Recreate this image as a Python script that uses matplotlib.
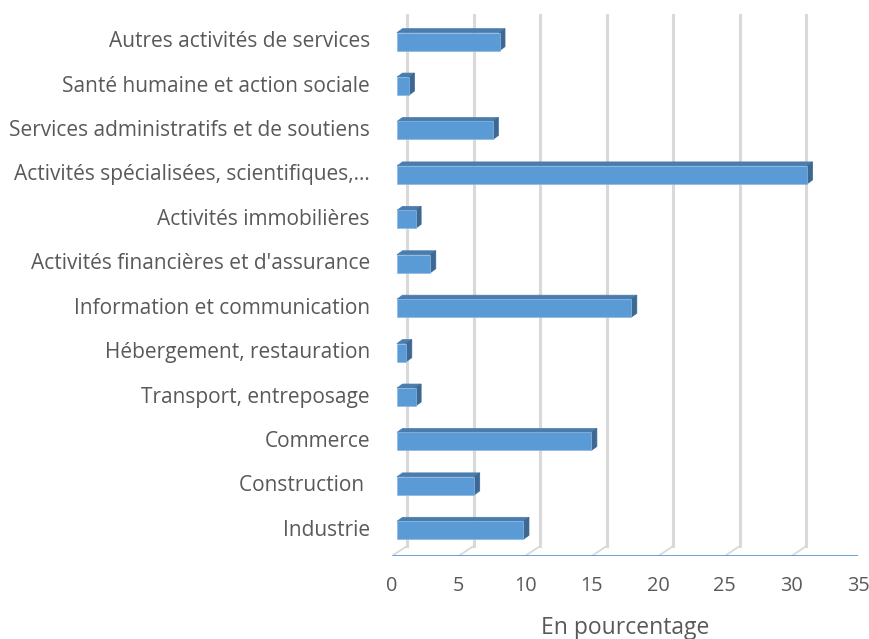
import matplotlib
matplotlib.use("Agg")
import matplotlib.pyplot as plt
from matplotlib.transforms import ScaledTranslation
from matplotlib.patches import Polygon

categories = ["Industrie", "Construction ", "Commerce", "Transport, entreposage",
              "Hébergement, restauration", "Information et communication",
              "Activités financières et d'assurance", "Activités immobilières",
              "Activités spécialisées, scientifiques,…",
              "Services administratifs et de soutiens",
              "Santé humaine et action sociale", "Autres activités de services"]
values = [9.5, 5.8, 14.6, 1.4, 0.7, 17.6, 2.5, 1.4, 30.8, 7.2, 0.9, 7.7]
xticks = [0, 5, 10, 15, 20, 25, 30, 35]
xlabel = "En pourcentage"

DPI = 100
fig = plt.figure(figsize=(8.70, 6.39), dpi=DPI)
ax = fig.add_axes([392/870, 83/639, 466/870, 542.4/639])
ax.set_xlim(0, 35)
ax.set_ylim(-0.5, 11.71)
ax.axis("off")
plt.rcParams['font.family'] = ['Open Sans', 'DejaVu Sans']
txtc = "#595959"
fs = 15.0

def off(dx, dy):
    return ax.transData + ScaledTranslation(dx/DPI, dy/DPI, fig.dpi_scale_trans)

# pixel scale
p0 = ax.transData.transform((0, 0))
px_x = ax.transData.transform((1, 0))[0] - p0[0]
px_y = ax.transData.transform((0, 1))[1] - p0[1]

back = (15, 10)
grid_c = "#d9d9d9"
y0, y1 = ax.get_ylim()
for t in xticks:
    ax.plot([t, t], [y0, y1], color=grid_c, lw=2.2, transform=off(*back), zorder=1)
    ax.plot([t, t + back[0]/px_x], [y0, y0 + back[1]/px_y], color=grid_c, lw=1.3, zorder=1)
ax.plot([0, 35], [y0, y0], color="#5B9BD5", lw=2.0, zorder=2, solid_capstyle="butt")

# bars
front = (5, 3.5)
depth_dx = 5.5 / px_x
depth_dy = 4.0 / px_y
h = 18.0 / px_y
fx, fy = front[0]/px_x, front[1]/px_y
for i, v in enumerate(values):
    xl, xr = fx, fx + v
    yb, yt = i + fy - h/2, i + fy + h/2
    frontp = [(xl, yb), (xr, yb), (xr, yt), (xl, yt)]
    top = [(xl, yt), (xr, yt), (xr + depth_dx, yt + depth_dy), (xl + depth_dx, yt + depth_dy)]
    side = [(xr, yb), (xr + depth_dx, yb + depth_dy), (xr + depth_dx, yt + depth_dy), (xr, yt)]
    ax.add_patch(Polygon(top, closed=True, fc="#4A7DAE", ec="#4A7DAE", lw=0.5, zorder=3))
    ax.add_patch(Polygon(side, closed=True, fc="#3C6893", ec="#3C6893", lw=0.5, zorder=3))
    ax.add_patch(Polygon(frontp, closed=True, fc="#5B9BD5", ec="#8DB8E3", lw=0.5, zorder=4))
    ax.text(0, i + fy, categories[i], ha="right", va="center", fontsize=fs, color=txtc,
            transform=off(-22, 0))

for t in xticks:
    ax.text(t, y0, str(t), ha="center", va="center", fontsize=14.3, color=txtc,
            transform=off(0, -30))
ax.text(17.5, y0, xlabel, ha="center", va="center", fontsize=16.5, color=txtc,
        transform=off(0, -72))

fig.savefig("out.png", dpi=DPI)
